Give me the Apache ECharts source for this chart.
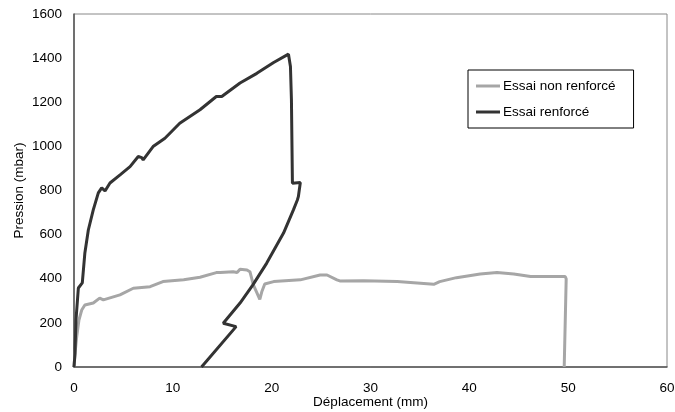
<!DOCTYPE html>
<html>
<head>
<meta charset="utf-8">
<script src="https://cdn.jsdelivr.net/npm/echarts@6/dist/echarts.min.js"></script>
<style>html,body{margin:0;padding:0;background:#fff;}#c{width:675px;height:412px;}</style>
</head>
<body>
<div id="c"></div>
<script>
// Essai non renforcé: displacement (mm), pressure (mbar)
var nonRenfX = [0, 0.1, 0.27, 0.5, 0.78, 1.1, 1.95, 2.6, 2.97, 4.65, 6.0, 7.7, 9.0, 11.1, 12.75, 14.4, 14.8, 16.1, 16.5, 16.8, 17.5, 17.8, 18.15, 18.8, 19.0, 19.3, 20.2, 22.9, 24.9, 25.6, 26.6, 26.9, 29.3, 32.7, 36.4, 37.0, 38.7, 41.1, 42.8, 44.5, 46.2, 49.7, 49.8, 49.6];
var nonRenfY = [0, 60, 136, 213, 258, 281, 290, 312, 304, 327, 357, 364, 387, 395, 407, 428, 428, 432, 428, 443, 440, 432, 372, 307, 341, 376, 387, 395, 417, 417, 395, 390, 391, 387, 375, 387, 405, 422, 428, 422, 410, 410, 400, 0];
// Essai renforcé
var renfX = [0, 0.1, 0.2, 0.44, 0.84, 1.1, 1.45, 1.95, 2.46, 2.8, 3.14, 3.64, 4.66, 5.67, 6.5, 6.85, 7.0, 8.0, 9.2, 10.7, 12.75, 14.4, 14.95, 16.8, 18.5, 20.2, 21.7, 21.9, 22.0, 22.1, 22.9, 22.7, 22.6, 22.2, 21.2, 19.5, 18.1, 16.8, 15.1, 16.4, 12.9];
var renfY = [0, 60, 213, 358, 381, 517, 621, 712, 789, 812, 798, 834, 871, 908, 954, 949, 939, 999, 1037, 1105, 1166, 1226, 1226, 1287, 1331, 1380, 1418, 1362, 1211, 833, 836, 772, 757, 712, 607, 471, 372, 290, 198, 183, 0];
var seriesNames = ['Essai non renforcé', 'Essai renforcé'];

function pairs(xs, ys) { return xs.map(function (x, i) { return [x, ys[i]]; }); }

var chart = echarts.init(document.getElementById('c'));
var font = 'Liberation Sans, Arial, sans-serif';
var fs = 13.5;
chart.setOption({
  animation: false,
  backgroundColor: '#ffffff',
  grid: { left: 74, right: 8, top: 14, bottom: 45, show: true, borderColor: '#888', borderWidth: 1,
          containLabel: false, outerBoundsMode: 'none' },
  xAxis: {
    type: 'value', min: 0, max: 60, interval: 10,
    name: 'Déplacement (mm)', nameLocation: 'middle', nameGap: 28, nameMoveOverlap: false,
    nameTextStyle: { fontFamily: font, fontSize: fs, color: '#000' },
    axisLine: { show: true, lineStyle: { color: '#555', width: 1.5 } },
    axisTick: { show: false },
    splitLine: { show: false },
    axisLabel: { fontFamily: font, fontSize: fs, color: '#000', margin: 14 }
  },
  yAxis: {
    type: 'value', min: 0, max: 1600, interval: 200,
    name: 'Pression (mbar)', nameLocation: 'middle', nameGap: 48, nameMoveOverlap: false,
    nameTextStyle: { fontFamily: font, fontSize: fs, color: '#000' },
    axisLine: { show: true, lineStyle: { color: '#555', width: 1.5 } },
    axisTick: { show: false },
    splitLine: { show: false },
    axisLabel: { fontFamily: font, fontSize: fs, color: '#000', margin: 12, formatter: function (v) { return String(v); } }
  },
  legend: {
    left: 468, top: 70, orient: 'vertical',
    borderColor: '#000', borderWidth: 1, backgroundColor: '#fff',
    padding: [9, 18, 9, 8], itemGap: 12, itemWidth: 24, itemHeight: 3, icon: 'rect',
    textStyle: { fontFamily: font, fontSize: fs, color: '#000', padding: [0, 0, 0, -2] },
    data: seriesNames
  },
  series: [
    { name: seriesNames[0], type: 'line', symbol: 'none', data: pairs(nonRenfX, nonRenfY),
      lineStyle: { color: '#a6a6a6', width: 3 }, itemStyle: { color: '#a6a6a6' } },
    { name: seriesNames[1], type: 'line', symbol: 'none', data: pairs(renfX, renfY),
      lineStyle: { color: '#333333', width: 3 }, itemStyle: { color: '#333333' } }
  ]
});
</script>
</body>
</html>
